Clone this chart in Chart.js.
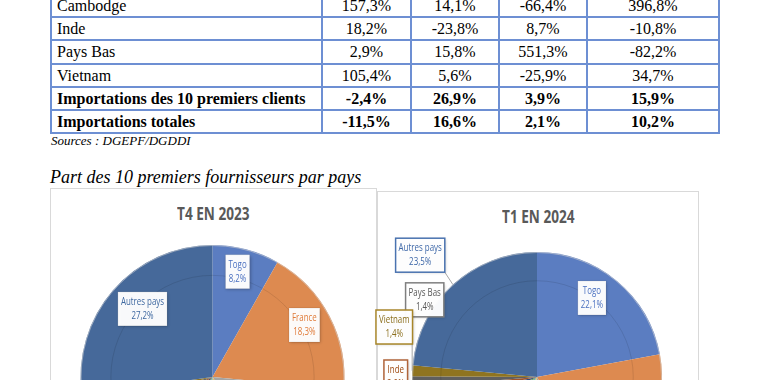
<!DOCTYPE html>
<html>
<head>
<meta charset="utf-8">
<script src="https://cdn.jsdelivr.net/npm/chart.js@4.4.1/dist/chart.umd.min.js"></script>
<style>
  html,body{margin:0;padding:0;}
  body{width:758px;height:380px;overflow:hidden;position:relative;background:#fff;}
  #tbl{position:absolute;left:50px;top:-7px;border-collapse:collapse;table-layout:fixed;
       font-family:"Liberation Serif","Times New Roman",serif;font-size:16px;color:#000;}
  #tbl td{border:2px solid #6d8fd3;padding:0;height:21.2px;line-height:19px;text-align:center;white-space:nowrap;overflow:hidden;}
  #tbl td:first-child{text-align:left;padding-left:5px;}
  #tbl tr.b td{font-weight:bold;}
  #src{position:absolute;left:51px;top:133px;font-family:"Liberation Serif",serif;font-style:italic;font-size:13px;}
  #cap{position:absolute;left:50px;top:167px;font-family:"Liberation Serif",serif;font-style:italic;font-size:18px;}
  .frame{position:absolute;border:1px solid #d9d9d9;background:#fff;}
  .ttl{position:absolute;left:0;right:0;text-align:center;}
  .ttl span{display:inline-block;transform:scaleX(0.8);font-family:"Open Sans",sans-serif;
       font-weight:bold;font-size:17px;color:#595959;}
  canvas{position:absolute;}
</style>
</head>
<body>
<table id="tbl"></table>
<div id="src">Sources : DGEPF/DGDDI</div>
<div id="cap">Part des 10 premiers fournisseurs par pays</div>

<div class="frame" style="left:50px;top:188px;width:325px;height:220px;"><div class="ttl" style="top:13px;"><span>T4 EN 2023</span></div></div>
<div class="frame" style="left:377px;top:191px;width:320px;height:220px;"><div class="ttl" style="top:13px;"><span>T1 EN 2024</span></div></div>
<canvas id="c1" width="325" height="380" style="left:50px;top:188px;"></canvas>
<canvas id="c2" width="330" height="372" style="left:367px;top:191px;"></canvas>

<script>
// ---------- Table data ----------
const rowLabels = ['Cambodge','Inde','Pays Bas','Vietnam','Importations des 10 premiers clients','Importations totales'];
const colA = ['157,3%','18,2%','2,9%','105,4%','-2,4%','-11,5%'];
const colB = ['14,1%','-23,8%','15,8%','5,6%','26,9%','16,6%'];
const colC = ['-66,4%','8,7%','551,3%','-25,9%','3,9%','2,1%'];
const colD = ['396,8%','-10,8%','-82,2%','34,7%','15,9%','10,2%'];
const boldRows = [4,5];

// ---------- Pie data ----------
const categories = ['Togo','France','Chine','Ghana',"Côte d'Ivoire",'Nigeria','Émirats Arabes Unis','Inde','Pays Bas','Vietnam','Autres pays'];
const shareT4_2023 = [8.2,18.3,14.5,8.1,6.2,5.4,4.9,3.1,2.3,1.8,27.2];
const shareT1_2024 = [22.1,20.4,9.8,7.2,5.1,4.0,3.1,2.0,1.4,1.4,23.5];

const sliceColors = ['#5b7dc1','#dd8a50','#a5a5a3','#f2c04c','#6a9fd3','#78ab52','#2f4b7a','#a0542a','#5f5f5f','#8f7420','#46699a'];

// build table
const colWidths = [271,89,88,88,132];
const tbl = document.getElementById('tbl');
const cg = document.createElement('colgroup');
colWidths.forEach(w=>{const c=document.createElement('col');c.style.width=w+'px';cg.appendChild(c);});
tbl.appendChild(cg);
rowLabels.forEach((lab,i)=>{
  const tr=document.createElement('tr');
  if(boldRows.includes(i)) tr.className='b';
  [lab,colA[i],colB[i],colC[i],colD[i]].forEach(t=>{const td=document.createElement('td');td.textContent=t;tr.appendChild(td);});
  tbl.appendChild(tr);
});

const fmt = v => v.toFixed(1).replace('.',',') + '%';

const boxLabels = {
  id:'boxLabels',
  afterDatasetsDraw(chart, args, opts){
    const meta = chart.getDatasetMeta(0);
    const a0 = meta.data[0];
    const cx=a0.x, cy=a0.y, R=a0.outerRadius;
    const ctx=chart.ctx;
    ctx.save();
    ctx.beginPath();ctx.arc(cx,cy,R*0.77,0,Math.PI*2);
    ctx.strokeStyle='rgba(0,0,0,0.10)';ctx.lineWidth=1;ctx.stroke();
    ctx.beginPath();ctx.arc(cx,cy,R-0.5,0,Math.PI*2);
    ctx.strokeStyle='rgba(210,210,210,0.6)';ctx.lineWidth=1;ctx.stroke();
    ctx.restore();
    const ds = chart.data.datasets[0];
    const sx = opts.scaleX;
    opts.items.forEach(it=>{
      const arc = meta.data[it.i];
      const th = it.a*Math.PI/180;
      const x = cx + Math.sin(th)*R*it.d, y = cy - Math.cos(th)*R*it.d;
      ctx.save();
      ctx.font = opts.font;
      const l1 = chart.data.labels[it.i], l2 = fmt(ds.data[it.i]);
      const padX=3, padY=3, lh=opts.lineH;
      const w = Math.max(ctx.measureText(l1).width, ctx.measureText(l2).width)*sx + 2*padX;
      const h = 2*lh + 2*padY;
      const rx = x-w/2, ry = y-h/2;
      if(it.leader){
        const mid=(arc.startAngle+arc.endAngle)/2;
        const ax=cx+Math.cos(mid)*R, ay=cy+Math.sin(mid)*R;
        const px=Math.min(Math.max(ax,rx),rx+w), py=Math.min(Math.max(ay,ry),ry+h);
        ctx.beginPath();ctx.moveTo(px,py);ctx.lineTo(ax,ay);
        ctx.strokeStyle='#a6a6a6';ctx.lineWidth=1;ctx.stroke();
      }
      ctx.shadowColor='rgba(0,0,0,0.25)';ctx.shadowBlur=3;ctx.shadowOffsetX=1;ctx.shadowOffsetY=1;
      ctx.fillStyle='rgba(255,255,255,0.97)';
      ctx.fillRect(rx,ry,w,h);
      ctx.shadowColor='transparent';
      ctx.strokeStyle=it.border||'rgba(0,0,0,0.08)';ctx.lineWidth=it.border?1.5:1;
      ctx.strokeRect(rx,ry,w,h);
      ctx.fillStyle=it.color;ctx.textAlign='center';ctx.textBaseline='middle';
      [[l1,ry+padY+lh/2],[l2,ry+padY+lh*1.5]].forEach(([t,ty])=>{
        ctx.save();ctx.translate(x,ty);ctx.scale(sx,1);ctx.fillText(t,0,0);ctx.restore();
      });
      ctx.restore();
    });
  }
};

const labelFont = '11px "Open Sans", sans-serif';

function makePie(id, data, radius, pad, items){
  return new Chart(document.getElementById(id),{
    type:'pie',
    data:{labels:categories,datasets:[{data:data,backgroundColor:sliceColors,borderWidth:0,radius:radius}]},
    options:{
      responsive:false,animation:false,
      layout:{padding:pad},
      plugins:{legend:{display:false},tooltip:{enabled:false},
        boxLabels:{font:labelFont,scaleX:0.72,lineH:14,items:items}}
    },
    plugins:[boxLabels]
  });
}

makePie('c1', shareT4_2023, 132, {left:31,right:31,top:57,bottom:59},[
  {i:0,a:13.4,d:0.82,color:'#4a70c0'},
  {i:1,a:60.5,d:0.80,color:'#e07b39'},
  {i:10,a:314.2,d:0.74,color:'#3e68a0'}
]);
makePie('c2', shareT1_2024, 125, {left:45,right:35,top:61,bottom:61},[
  {i:0,a:34.8,d:0.77,color:'#4a70c0'},
  {i:10,a:316.2,d:1.35,color:'#3e68a8',border:'#4a73b0',leader:true},
  {i:8,a:304.5,d:1.09,color:'#595959',border:'#7f7f7f'},
  {i:9,a:289.3,d:1.21,color:'#8a6d1a',border:'#a8862a',leader:true},
  {i:7,a:270,d:1.13,color:'#9e480e',border:'#b0643a',leader:true}
]);
</script>
</body>
</html>
